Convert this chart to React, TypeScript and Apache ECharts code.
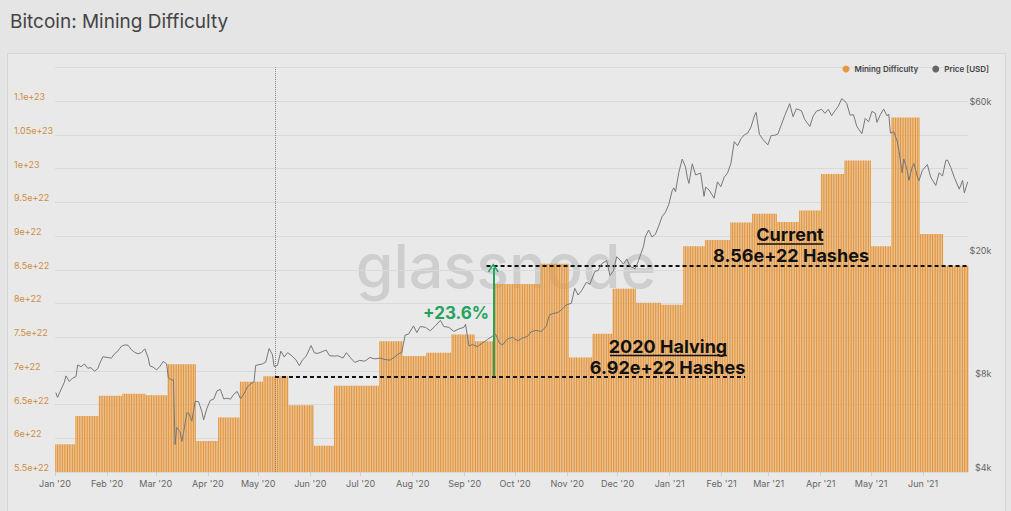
import React, { useEffect, useRef } from "react";
import * as echarts from "echarts";

// ---------- DATA ----------
// Mining difficulty adjustments (start date, hashes in units of 1e22)
const diffDates = [
  "2020-01-01", "2020-01-13", "2020-01-27", "2020-02-10", "2020-02-24", "2020-03-08",
  "2020-03-25", "2020-04-07", "2020-04-20", "2020-05-04", "2020-05-19", "2020-06-03",
  "2020-06-15", "2020-07-12", "2020-07-26", "2020-08-09", "2020-08-24", "2020-09-07",
  "2020-09-19", "2020-10-16", "2020-11-02", "2020-11-16", "2020-11-28", "2020-12-12",
  "2020-12-27", "2021-01-09", "2021-01-22", "2021-02-06", "2021-02-19", "2021-03-06",
  "2021-03-19", "2021-04-01", "2021-04-15", "2021-05-01", "2021-05-13", "2021-05-30",
  "2021-06-13",
];
const diffValues = [
  5.91, 6.33, 6.63, 6.66, 6.64, 7.10,
  5.96, 6.31, 6.84, 6.92, 6.49, 5.89,
  6.78, 7.44, 7.22, 7.27, 7.54, 7.44,
  8.29, 8.59, 7.20, 7.55, 8.22, 8.01,
  7.98, 8.85, 8.94, 9.20, 9.33, 9.21,
  9.38, 9.92, 10.12, 8.85, 10.76, 9.03,
  8.56,
];
const lastDay = "2021-06-27";

// BTC price [USD]
const priceDates = [
  "2020-01-01", "2020-01-02", "2020-01-04", "2020-01-06", "2020-01-07", "2020-01-09", "2020-01-11", "2020-01-13",
  "2020-01-14", "2020-01-16", "2020-01-18", "2020-01-20", "2020-01-22", "2020-01-24", "2020-01-26", "2020-01-27",
  "2020-01-29", "2020-02-01", "2020-02-03", "2020-02-05", "2020-02-07", "2020-02-09", "2020-02-11", "2020-02-13",
  "2020-02-15", "2020-02-17", "2020-02-19", "2020-02-21", "2020-02-23", "2020-02-25", "2020-02-26", "2020-02-28",
  "2020-03-01", "2020-03-03", "2020-03-05", "2020-03-07", "2020-03-08", "2020-03-10", "2020-03-11", "2020-03-12",
  "2020-03-13", "2020-03-15", "2020-03-16", "2020-03-17", "2020-03-19", "2020-03-20", "2020-03-22", "2020-03-24",
  "2020-03-26", "2020-03-28", "2020-03-29", "2020-03-31", "2020-04-02", "2020-04-04", "2020-04-06", "2020-04-08",
  "2020-04-10", "2020-04-12", "2020-04-14", "2020-04-16", "2020-04-18", "2020-04-20", "2020-04-22", "2020-04-24",
  "2020-04-26", "2020-04-28", "2020-04-29", "2020-05-01", "2020-05-03", "2020-05-05", "2020-05-07", "2020-05-09",
  "2020-05-10", "2020-05-12", "2020-05-14", "2020-05-16", "2020-05-18", "2020-05-20", "2020-05-23", "2020-05-25",
  "2020-05-27", "2020-05-29", "2020-06-01", "2020-06-03", "2020-06-05", "2020-06-08", "2020-06-10", "2020-06-12",
  "2020-06-15", "2020-06-17", "2020-06-20", "2020-06-22", "2020-06-25", "2020-06-27", "2020-06-30", "2020-07-03",
  "2020-07-06", "2020-07-09", "2020-07-12", "2020-07-15", "2020-07-18", "2020-07-21", "2020-07-23", "2020-07-25",
  "2020-07-27", "2020-07-29", "2020-08-01", "2020-08-03", "2020-08-05", "2020-08-08", "2020-08-11", "2020-08-14",
  "2020-08-17", "2020-08-19", "2020-08-22", "2020-08-25", "2020-08-28", "2020-08-31", "2020-09-01", "2020-09-03",
  "2020-09-05", "2020-09-08", "2020-09-11", "2020-09-14", "2020-09-17", "2020-09-19", "2020-09-21", "2020-09-23",
  "2020-09-26", "2020-09-29", "2020-10-02", "2020-10-05", "2020-10-08", "2020-10-10", "2020-10-13", "2020-10-16",
  "2020-10-19", "2020-10-21", "2020-10-23", "2020-10-26", "2020-10-28", "2020-10-31", "2020-11-03", "2020-11-05",
  "2020-11-07", "2020-11-09", "2020-11-12", "2020-11-14", "2020-11-17", "2020-11-19", "2020-11-21", "2020-11-24",
  "2020-11-26", "2020-11-28", "2020-11-30", "2020-12-02", "2020-12-04", "2020-12-06", "2020-12-08", "2020-12-11",
  "2020-12-13", "2020-12-16", "2020-12-17", "2020-12-19", "2020-12-21", "2020-12-23", "2020-12-25", "2020-12-27",
  "2020-12-29", "2020-12-31", "2021-01-02", "2021-01-03", "2021-01-04", "2021-01-06", "2021-01-08", "2021-01-10",
  "2021-01-11", "2021-01-12", "2021-01-14", "2021-01-16", "2021-01-19", "2021-01-21", "2021-01-22", "2021-01-24",
  "2021-01-27", "2021-01-29", "2021-01-31", "2021-02-02", "2021-02-04", "2021-02-06", "2021-02-08", "2021-02-10",
  "2021-02-12", "2021-02-14", "2021-02-16", "2021-02-18", "2021-02-20", "2021-02-21", "2021-02-23", "2021-02-25",
  "2021-02-28", "2021-03-02", "2021-03-04", "2021-03-06", "2021-03-08", "2021-03-10", "2021-03-13", "2021-03-15",
  "2021-03-17", "2021-03-20", "2021-03-22", "2021-03-25", "2021-03-27", "2021-03-29", "2021-04-01", "2021-04-03",
  "2021-04-05", "2021-04-07", "2021-04-09", "2021-04-11", "2021-04-13", "2021-04-14", "2021-04-16", "2021-04-18",
  "2021-04-20", "2021-04-22", "2021-04-25", "2021-04-27", "2021-04-29", "2021-05-01", "2021-05-03", "2021-05-04",
  "2021-05-06", "2021-05-08", "2021-05-10", "2021-05-11", "2021-05-12", "2021-05-14", "2021-05-16", "2021-05-17",
  "2021-05-19", "2021-05-20", "2021-05-22", "2021-05-23", "2021-05-25", "2021-05-26", "2021-05-28", "2021-05-29",
  "2021-05-31", "2021-06-03", "2021-06-05", "2021-06-08", "2021-06-10", "2021-06-12", "2021-06-14", "2021-06-15",
  "2021-06-17", "2021-06-19", "2021-06-22", "2021-06-24", "2021-06-25", "2021-06-27",
];
const priceValues = [
  7200, 6950, 7350, 7760, 8150, 7820, 8020, 8110,
  8840, 8720, 8900, 8630, 8660, 8440, 8600, 8910,
  9390, 9340, 9290, 9600, 9810, 10150, 10250, 10230,
  9890, 9700, 9600, 9690, 9960, 9310, 8780, 8690,
  8520, 8750, 9070, 8900, 8040, 7900, 7930, 4900,
  5560, 5390, 5010, 5330, 6190, 6200, 5830, 6760,
  6730, 6250, 5880, 6420, 6800, 6860, 7300, 7370,
  6870, 6910, 6860, 7120, 7260, 6880, 7130, 7500,
  7690, 7790, 8800, 8860, 8900, 9030, 9980, 9540,
  8730, 8820, 9790, 9380, 9680, 9510, 9180, 8790,
  9190, 9420, 10200, 9660, 9630, 9770, 9870, 9460,
  9440, 9460, 9300, 9680, 9250, 9010, 9140, 9090,
  9340, 9240, 9300, 9200, 9160, 9390, 9600, 9700,
  11030, 11100, 11800, 11230, 11750, 11680, 11390, 11800,
  12300, 11750, 11680, 11330, 11540, 11680, 11950, 10170,
  10280, 10120, 10390, 10670, 10940, 11080, 10420, 10240,
  10730, 10840, 10570, 10790, 10930, 11300, 11420, 11320,
  11750, 12800, 12930, 13030, 13280, 13800, 13950, 15590,
  14830, 15310, 16310, 16070, 17670, 17800, 18680, 19150,
  17140, 17720, 19700, 19220, 18650, 19360, 18320, 18040,
  19140, 21300, 22800, 24000, 22800, 23240, 24700, 26500,
  27350, 29000, 32100, 32800, 31900, 36800, 40600, 38300,
  35500, 33900, 39200, 36100, 36600, 30800, 33000, 32300,
  30400, 34300, 33100, 35500, 36600, 39300, 46200, 44800,
  47200, 48600, 49200, 51500, 55900, 57400, 48800, 47000,
  45100, 48400, 48400, 48900, 52300, 55900, 61200, 55600,
  58900, 58100, 54400, 51700, 55800, 57900, 58700, 57000,
  58700, 56000, 58100, 60100, 63500, 63000, 61300, 56200,
  56400, 51700, 49000, 54900, 53500, 57800, 57000, 53300,
  56400, 58800, 55900, 56700, 49200, 49700, 46400, 43500,
  36700, 40600, 37300, 34700, 38300, 39300, 35700, 34600,
  37300, 39000, 35500, 33400, 36700, 35800, 40200, 40300,
  38100, 35500, 32500, 34700, 31600, 34300,
];

// Axis ticks
const monthTicks = [
  "2020-01-01", "2020-02-01", "2020-03-01", "2020-04-01", "2020-05-01", "2020-06-01",
  "2020-07-01", "2020-08-01", "2020-09-01", "2020-10-01", "2020-11-01", "2020-12-01",
  "2021-01-01", "2021-02-01", "2021-03-01", "2021-04-01", "2021-05-01", "2021-06-01",
];
const monthNames = ["Jan", "Feb", "Mar", "Apr", "May", "Jun", "Jul", "Aug", "Sep", "Oct", "Nov", "Dec"];
const priceTicks = [4000, 8000, 20000, 60000];
const diffMin = 5.5e22;
const diffMax = 1.15e23;
const diffLabelMax = 1.1e23;
const diffStep = 5e21;
const priceMin = 4000;
const priceMax = 80000;

// Annotations
const halvingDate = "2020-05-11";
const halvingLevel = 6.92; // e22
const halvingLineEnd = "2021-02-15";
const currentLevel = 8.56; // e22
const currentLineStart = "2020-09-14";
const arrowDate = "2020-09-18";
const arrowTop = 8.53; // e22

// ---------- HELPERS ----------
const DAY = 86400000;
const ts = (s: string) => {
  const [y, m, d] = s.split("-").map(Number);
  return Date.UTC(y, m - 1, d);
};

const ORANGE = "#e6983f";
const FONT = "Inter";

export default function App() {
  const ref = useRef<HTMLDivElement>(null);

  useEffect(() => {
    document.body.style.margin = "0";
    const chart = echarts.init(ref.current!, null, { renderer: "svg" });

    const startTs = ts(diffDates[0]);
    const endTs = ts(lastDay) + DAY;

    const barData: [number, number][] = [];
    let k = 0;
    for (let t = startTs; t < endTs; t += DAY) {
      while (k + 1 < diffDates.length && ts(diffDates[k + 1]) <= t) k++;
      barData.push([t + DAY / 2, diffValues[k] * 1e22]);
    }
    const lineData = priceDates.map((d, i) => [ts(d) + DAY / 2, Math.log10(priceValues[i])]);

    const arrowPath = "path://M0,10 L6,0 L12,10 L10.6,11 L6,3.2 L1.4,11 Z";

    const option: any = {
      animation: false,
      backgroundColor: "#e5e5e5",
      textStyle: { fontFamily: FONT },
      title: {
        text: "Bitcoin: Mining Difficulty",
        left: 5,
        top: 7,
        textStyle: { fontSize: 19, fontWeight: "normal", color: "#444", fontFamily: FONT },
      },
      legend: {
        right: 17,
        top: 60,
        icon: "circle",
        itemWidth: 7,
        itemHeight: 7,
        itemGap: 14,
        textStyle: { fontSize: 8, color: "#444", fontWeight: 600, fontFamily: FONT },
        data: [
          { name: "Mining Difficulty", itemStyle: { color: ORANGE } },
          { name: "Price [USD]", itemStyle: { color: "#666" } },
        ],
      },
      grid: { left: 55, right: 42.5, top: 67.5, bottom: 39 },
      xAxis: {
        type: "value",
        min: startTs,
        max: endTs,
        axisLine: { show: false },
        axisTick: {
          show: true,
          customValues: monthTicks.map(ts),
          length: 4,
          lineStyle: { color: "#cfcfcf" },
        },
        axisLabel: {
          customValues: monthTicks.map(ts),
          color: "#666",
          fontSize: 9,
          margin: 7,
          formatter: (v: number) => {
            const d = new Date(v);
            return monthNames[d.getUTCMonth()] + " '" + String(d.getUTCFullYear()).slice(2);
          },
        },
        splitLine: { show: false },
      },
      yAxis: [
        {
          type: "value",
          position: "left",
          min: diffMin,
          max: diffMax,
          interval: diffStep,
          axisLine: { show: false },
          axisTick: { show: false },
          axisLabel: {
            color: "#cf8d3e",
            fontSize: 9,
            align: "left",
            margin: 41,
            verticalAlign: "bottom",
            formatter: (v: number) =>
              v > diffLabelMax * 1.01 ? "" : Number(v.toPrecision(4)).toString(),
          },
          splitLine: { lineStyle: { color: "#dadada", width: 1 } },
        },
        {
          type: "value",
          position: "right",
          min: Math.log10(priceMin),
          max: Math.log10(priceMax),
          axisLine: { show: false },
          axisTick: { show: false },
          splitLine: { show: false },
          axisLabel: {
            customValues: priceTicks.map((p) => Math.log10(p)),
            color: "#666",
            fontSize: 9,
            align: "right",
            margin: 23,
            verticalAlign: "bottom",
            formatter: (v: number) => "$" + Math.round(Math.pow(10, v) / 1000) + "k",
          },
        },
      ],
      graphic: [
        {
          type: "rect",
          z: -2,
          silent: true,
          shape: { x: 7.5, y: 53.5, width: 998, height: 480 },
          style: { fill: "#e9e9e9", stroke: "#d6d6d6", lineWidth: 1 },
        },
        {
          type: "text",
          z: -1,
          silent: true,
          x: 506,
          y: 266,
          style: {
            text: "glassnode",
            font: `500 61px ${FONT}`,
            fill: "rgba(110,110,110,0.22)",
            align: "center",
            verticalAlign: "middle",
          },
        },
        {
          type: "text",
          z: 50,
          silent: true,
          x: 456,
          y: 313,
          style: {
            text: "+23.6%",
            font: `bold 17px ${FONT}`,
            fill: "#22a35b",
            align: "center",
            verticalAlign: "middle",
          },
        },
        {
          type: "text",
          z: 50,
          silent: true,
          x: 668,
          y: 346,
          style: { text: "2020 Halving", font: `bold 18px ${FONT}`, fill: "#111", align: "center", verticalAlign: "middle" },
        },
        {
          type: "line",
          z: 50,
          silent: true,
          shape: { x1: 610, y1: 355.5, x2: 727, y2: 355.5 },
          style: { stroke: "#111", lineWidth: 1.5 },
        },
        {
          type: "text",
          z: 50,
          silent: true,
          x: 667.5,
          y: 367,
          style: { text: "6.92e+22 Hashes", font: `bold 18px ${FONT}`, fill: "#111", align: "center", verticalAlign: "middle" },
        },
        {
          type: "text",
          z: 50,
          silent: true,
          x: 790,
          y: 234,
          style: { text: "Current", font: `bold 18px ${FONT}`, fill: "#111", align: "center", verticalAlign: "middle" },
        },
        {
          type: "line",
          z: 50,
          silent: true,
          shape: { x1: 757, y1: 244, x2: 823.5, y2: 244 },
          style: { stroke: "#111", lineWidth: 1.5 },
        },
        {
          type: "text",
          z: 50,
          silent: true,
          x: 791,
          y: 255,
          style: { text: "8.56e+22 Hashes", font: `bold 18px ${FONT}`, fill: "#111", align: "center", verticalAlign: "middle" },
        },
      ],
      series: [
        {
          name: "Mining Difficulty",
          type: "bar",
          xAxisIndex: 0,
          yAxisIndex: 0,
          data: barData,
          barCategoryGap: "25%",
          itemStyle: { color: ORANGE },
          silent: true,
          markLine: {
            silent: true,
            symbol: "none",
            label: { show: false },
            data: [
              {
                xAxis: ts(halvingDate),
                lineStyle: { color: "#888", width: 1, type: "dotted" },
              },
              [
                {
                  coord: [ts(halvingDate), halvingLevel * 1e22],
                  lineStyle: { color: "#111", width: 2, type: [4, 3] },
                },
                { coord: [ts(halvingLineEnd), halvingLevel * 1e22] },
              ],
              [
                {
                  coord: [ts(currentLineStart), currentLevel * 1e22],
                  lineStyle: { color: "#111", width: 2, type: [4, 3] },
                },
                { coord: [endTs, currentLevel * 1e22] },
              ],
              [
                {
                  coord: [ts(arrowDate), halvingLevel * 1e22],
                  symbol: "none",
                  lineStyle: { color: "#22a35b", width: 2, type: "solid" },
                },
                {
                  coord: [ts(arrowDate), arrowTop * 1e22],
                  symbol: arrowPath,
                  symbolSize: [11, 9],
                },
              ],
            ],
          },
        },
        {
          name: "Price [USD]",
          type: "line",
          xAxisIndex: 0,
          yAxisIndex: 1,
          data: lineData,
          showSymbol: false,
          symbol: "none",
          silent: true,
          z: 5,
          lineStyle: { color: "#777", width: 1 },
          itemStyle: { color: "#666" },
        },
      ],
    };

    chart.setOption(option);
    return () => chart.dispose();
  }, []);

  return (
    <div
      ref={ref}
      style={{ position: "fixed", left: 0, top: 0, width: 1011, height: 511, background: "#e5e5e5" }}
    />
  );
}
